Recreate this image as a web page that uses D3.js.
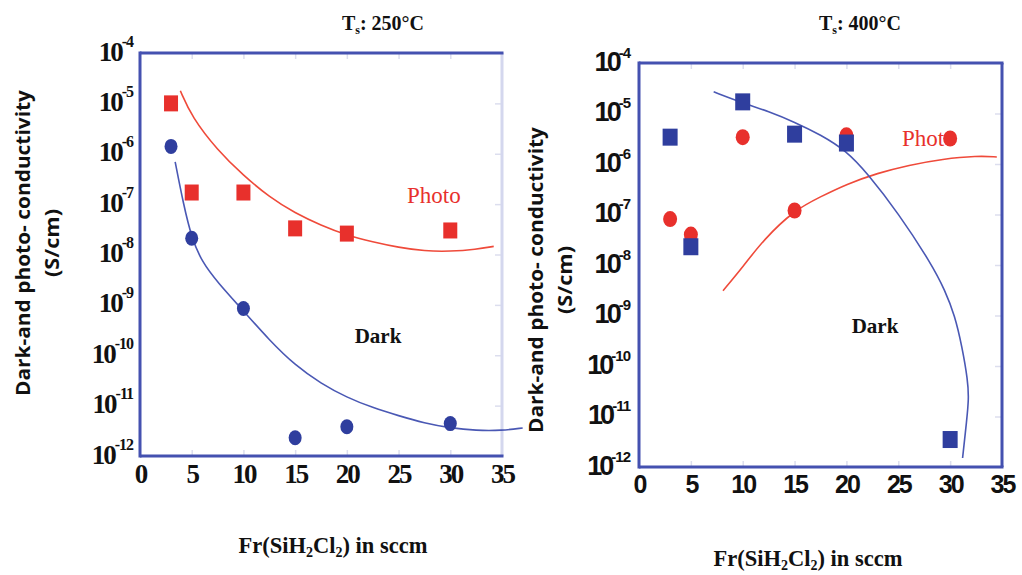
<!DOCTYPE html>
<html><head><meta charset="utf-8">
<script src="https://cdn.jsdelivr.net/npm/d3@7"></script>
<style>body{margin:0;background:#fff;} svg{display:block}</style>
</head><body>
<svg id="c" width="1022" height="575"></svg>
<script>
// ---------- data ----------
const flow = [3, 5, 10, 15, 20, 30];            // Fr(SiH2Cl2), sccm
const leftPhoto  = [1.0e-5, 1.7e-7, 1.7e-7, 3.3e-8, 2.6e-8, 3.0e-8];   // Ts 250°C, squares
const leftDark   = [1.4e-6, 2.1e-8, 8.5e-10, 2.3e-12, 3.8e-12, 4.4e-12]; // Ts 250°C, circles
const rightDark  = [3.4e-6, 2.3e-8, 1.7e-5, 3.9e-6, 2.6e-6, 3.5e-12];  // Ts 400°C, squares
const rightPhoto = [8.1e-8, 4.0e-8, 3.4e-6, 1.2e-7, 3.7e-6, 3.2e-6];   // Ts 400°C, circles

// fitted guide curves
const leftPhotoFitX = [3.9, 5, 7.5, 10, 12.5, 15, 17.5, 20, 22.5, 25, 27.5, 30, 32.5, 34.2];
const leftPhotoFitY = [1.78e-5, 5.4e-6, 1.17e-6, 3.7e-7, 1.38e-7, 6.6e-8, 3.8e-8, 2.4e-8, 1.78e-8, 1.38e-8, 1.17e-8, 1.15e-8, 1.26e-8, 1.45e-8];
const leftDarkFitX = [3.4, 4.2, 5, 6, 7.5, 10, 12.5, 15, 17.5, 20, 22.5, 25, 27.5, 30, 32.5, 35, 37];
const leftDarkFitY = [6.9e-7, 1.0e-7, 2.1e-8, 7.1e-9, 2.8e-9, 7.6e-10, 2.0e-10, 6.3e-11, 2.75e-11, 1.45e-11, 9.1e-12, 6.3e-12, 4.5e-12, 3.6e-12, 3.2e-12, 3.2e-12, 3.6e-12];
const rightDarkFitX = [7.2, 10, 12.5, 15, 17.5, 20, 22, 25, 28.2, 29.5, 30.45, 31.15, 31.7, 31.8, 31.6, 31.2];
const rightDarkFitY = [2.69e-5, 1.62e-5, 1.1e-5, 6.76e-6, 3.8e-6, 1.82e-6, 6.6e-7, 1.07e-7, 1.05e-8, 3.16e-9, 1.0e-9, 2.4e-10, 5.25e-11, 2.24e-11, 8.5e-12, 1.51e-12];
const rightPhotoFitX = [8.1, 10, 12, 15, 17.5, 20, 23, 26, 29.3, 32.6, 34.5];
const rightPhotoFitY = [3.1e-9, 9.1e-9, 3.16e-8, 1.23e-7, 2.24e-7, 3.98e-7, 6.6e-7, 9.5e-7, 1.26e-6, 1.45e-6, 1.38e-6];

const xTicks = [0, 5, 10, 15, 20, 25, 30, 35];
const yTicks = [1e-4, 1e-5, 1e-6, 1e-7, 1e-8, 1e-9, 1e-10, 1e-11, 1e-12];
const yTickExp = ["-4", "-5", "-6", "-7", "-8", "-9", "-10", "-11", "-12"];

const titles = ["250°C", "400°C"];
const yTitle = "Dark-and photo- conductivity";
const yUnit = "(S/cm)";

// ---------- styles ----------
const RED = "#e8302c", BLUE = "#2f3e9e";
const RED_LINE = "#ef4a3a", BLUE_LINE = "#4a58b4";
const FRAME = "#4451b0", FRAME_LIGHT = "#d4d7ee";

const svg = d3.select("#c");

function panel(o) {
  const x = d3.scaleLinear().domain([0, 35]).range(o.xr);
  const y = d3.scaleLog().domain([1e-12, 1e-4]).range(o.yr);
  const g = svg.append("g");

  // faint inner ticks
  const faint = (sel) => { sel.select(".domain").remove(); sel.selectAll("line").attr("stroke", "#dcdeee").attr("stroke-width", 1.5); sel.selectAll("text").remove(); };
  g.append("g").attr("transform", `translate(0,${o.yr[1]})`).call(d3.axisBottom(x).tickValues(xTicks.slice(1, -1)).tickSize(6)).call(faint);
  g.append("g").attr("transform", `translate(0,${o.yr[0]})`).call(d3.axisTop(x).tickValues(xTicks.slice(1, -1)).tickSize(6)).call(faint);
  g.append("g").attr("transform", `translate(${o.xr[1]},0)`).call(d3.axisLeft(y).tickValues(yTicks.slice(1, -1)).tickSize(7)).call(faint);

  // frame
  const [x0, x1] = o.xr, [y0, y1] = o.yr;
  g.append("line").attr("x1", x1).attr("x2", x1).attr("y1", y1).attr("y2", y0).attr("stroke", o.rightFrame).attr("stroke-width", 3);
  g.append("line").attr("x1", x0).attr("x2", x1 + 1.5).attr("y1", y1).attr("y2", y1).attr("stroke", FRAME).attr("stroke-width", 3);
  g.append("line").attr("x1", x0).attr("x2", x1 + 1.5).attr("y1", y0).attr("y2", y0).attr("stroke", FRAME).attr("stroke-width", 3);
  g.append("line").attr("x1", x0).attr("x2", x0).attr("y1", y1 - 1.5).attr("y2", y0 + 1.5).attr("stroke", FRAME).attr("stroke-width", 3);

  // x axis labels
  const xa = g.append("g").attr("transform", `translate(0,${y0})`)
    .call(d3.axisBottom(x).tickValues(xTicks).tickSize(0).tickPadding(0));
  xa.select(".domain").remove();
  xa.selectAll("text").attr("dy", null).attr("y", o.xLabBase)
    .attr("font-family", o.tickFont).attr("font-weight", "bold").attr("font-size", o.xTickSize)
    .attr("letter-spacing", o.xTickLS).attr("fill", "#111");

  // y axis labels
  const ya = g.append("g").attr("transform", `translate(${x0},0)`)
    .call(d3.axisLeft(y).tickValues(yTicks).tickSize(0).tickFormat(() => ""));
  ya.select(".domain").remove();
  ya.selectAll("text").each(function (d, i) {
    const t = d3.select(this).attr("dy", null).attr("x", -o.yLabGap).attr("y", o.yLabBase)
      .attr("text-anchor", "end").attr("font-family", o.tickFont).attr("font-weight", "bold").attr("fill", "#111");
    t.append("tspan").attr("font-size", o.yTickSize).attr("letter-spacing", o.yTickLS).text("10");
    t.append("tspan").attr("font-size", o.supSize).attr("dy", -o.supRise).attr("letter-spacing", -1).text(yTickExp[i]);
  });

  // title
  const tt = g.append("text").attr("x", o.titleX).attr("y", 30).attr("text-anchor", "middle")
    .attr("font-family", "Liberation Serif, serif").attr("font-weight", "bold").attr("font-size", 20).attr("fill", "#111");
  tt.append("tspan").text("T");
  tt.append("tspan").attr("font-size", 12).attr("dy", 4).text("s");
  tt.append("tspan").attr("dy", -4).text(": " + o.title);

  // axis titles
  const xt = g.append("text").attr("x", o.xTitleX).attr("y", o.xTitleY).attr("text-anchor", "middle")
    .attr("font-family", "Liberation Serif, serif").attr("font-weight", "bold").attr("font-size", 22.5).attr("fill", "#111");
  xt.append("tspan").text("Fr(SiH");
  xt.append("tspan").attr("font-size", 14).attr("dy", 4).text("2");
  xt.append("tspan").attr("dy", -4).text("Cl");
  xt.append("tspan").attr("font-size", 14).attr("dy", 4).text("2");
  xt.append("tspan").attr("dy", -4).text(") in sccm");

  g.append("text").attr("transform", `translate(${o.yTitleX},${o.yTitleY}) rotate(-90)`)
    .attr("text-anchor", "middle").attr("dominant-baseline", "central")
    .attr("font-family", "Open Sans, sans-serif").attr("font-weight", "bold").attr("font-size", 20)
    .attr("textLength", 306).attr("lengthAdjust", "spacingAndGlyphs").attr("fill", "#111").text(yTitle);
  g.append("text").attr("transform", `translate(${o.yTitleX + 29},${o.yTitleY}) rotate(-90)`)
    .attr("text-anchor", "middle").attr("dominant-baseline", "central")
    .attr("font-family", "Open Sans, sans-serif").attr("font-weight", "bold").attr("font-size", 20)
    .attr("textLength", 68).attr("lengthAdjust", "spacingAndGlyphs").attr("fill", "#111").text(yUnit);

  // in-plot labels
  g.append("text").attr("x", o.photoX).attr("y", o.photoY).attr("font-family", "Liberation Serif, serif")
    .attr("font-size", 23).attr("fill", RED).text("Photo");
  g.append("text").attr("x", o.darkX).attr("y", o.darkY).attr("text-anchor", "middle").attr("font-family", "Liberation Serif, serif")
    .attr("font-weight", "bold").attr("font-size", 21).attr("fill", "#111").text("Dark");

  // fit curves
  const line = d3.line().x(d => x(d[0])).y(d => y(d[1])).curve(d3.curveBasis);
  o.fits.forEach(f => {
    g.append("path").attr("d", line(d3.zip(f.x, f.y))).attr("fill", "none").attr("stroke", f.color).attr("stroke-width", 1.6);
  });

  // markers
  o.series.forEach(s => {
    const m = g.append("g").selectAll("*").data(d3.zip(flow, s.values));
    if (s.shape === "square") {
      m.join("rect").attr("x", d => x(d[0]) - s.w / 2).attr("y", d => y(d[1]) - s.h / 2)
        .attr("width", s.w).attr("height", s.h).attr("fill", s.color);
    } else {
      m.join("ellipse").attr("cx", d => x(d[0])).attr("cy", d => y(d[1]))
        .attr("rx", s.w / 2).attr("ry", s.h / 2).attr("fill", s.color);
    }
  });
}

panel({
  xr: [140, 502], yr: [456, 53], rightFrame: FRAME_LIGHT,
  tickFont: "Liberation Serif, serif", xTickSize: 27, xTickLS: -2, yTickSize: 27, yTickLS: -2,
  supSize: 16, supRise: 14, yLabGap: 7, yLabBase: 7, xLabBase: 27,
  title: titles[0], titleX: 383, xTitleX: 333, xTitleY: 553, yTitleX: 22, yTitleY: 243,
  photoX: 407, photoY: 203, darkX: 378, darkY: 343,
  fits: [
    { x: leftPhotoFitX, y: leftPhotoFitY, color: RED_LINE },
    { x: leftDarkFitX, y: leftDarkFitY, color: BLUE_LINE }
  ],
  series: [
    { values: leftPhoto, shape: "square", color: RED, w: 14, h: 16 },
    { values: leftDark, shape: "circle", color: BLUE, w: 13, h: 15 }
  ]
});

panel({
  xr: [639, 1002], yr: [467, 63], rightFrame: FRAME,
  tickFont: "Liberation Sans, Arial, sans-serif", xTickSize: 25, xTickLS: -2, yTickSize: 27, yTickLS: -3,
  supSize: 15, supRise: 13, yLabGap: 9, yLabBase: 7, xLabBase: 26,
  title: titles[1], titleX: 860, xTitleX: 808, xTitleY: 566, yTitleX: 535, yTitleY: 280,
  photoX: 902, photoY: 146, darkX: 875, darkY: 333,
  fits: [
    { x: rightPhotoFitX, y: rightPhotoFitY, color: RED_LINE },
    { x: rightDarkFitX, y: rightDarkFitY, color: BLUE_LINE }
  ],
  series: [
    { values: rightPhoto, shape: "circle", color: RED, w: 14, h: 16 },
    { values: rightDark, shape: "square", color: BLUE, w: 15, h: 17 }
  ]
});
</script>
</body></html>
